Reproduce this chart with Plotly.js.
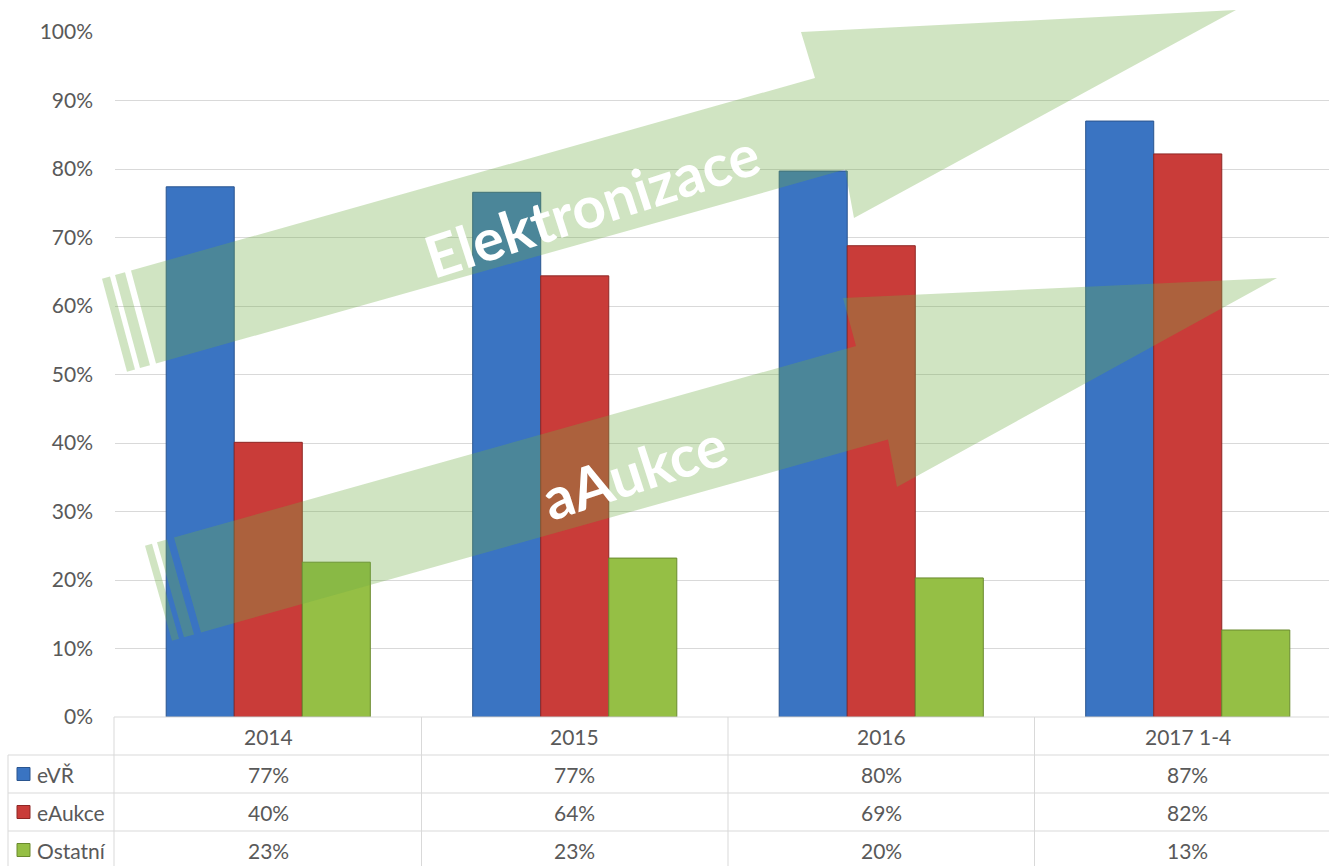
<!DOCTYPE html>
<html>
<head>
<meta charset="utf-8">
<script src="https://cdn.plot.ly/plotly-3.0.1.min.js"></script>
<style>html,body{margin:0;padding:0;background:#fff;}#chart{width:1329px;height:866px;}</style>
</head>
<body>
<div id="chart"></div>
<script>
// ---- data ----
const categories = ['2014', '2015', '2016', '2017 1-4'];
const seriesNames = ['eVŘ', 'eAukce', 'Ostatní'];
const eVR = [77.4, 76.6, 79.7, 87.0];
const eAukce = [40.1, 64.4, 68.8, 82.2];
const ostatni = [22.6, 23.2, 20.3, 12.7];
const yTickVals = [0, 10, 20, 30, 40, 50, 60, 70, 80, 90, 100];
const arrowLabels = ['Elektronizace', 'aAukce'];

// ---- styling ----
const W = 1329, H = 866;
const L = 115, R = 1329, T = 32, B = 717;
const colors = ['#3A74C2', '#C93C39', '#95BF45'];
const lineColors = ['#2A558F', '#8E2725', '#6A8A2E'];
const textColor = '#595959';
const gridColor = '#D9D9D9';
const FONT = 'Lato, "Open Sans", sans-serif';

const px = x => (x - L) / (R - L);
const py = y => (B - y) / (B - T);
const P = (x, y) => px(x).toFixed(5) + ',' + py(y).toFixed(5);
function poly(pts) { return 'M' + pts.map(p => P(p[0], p[1])).join(' L') + ' Z'; }

const seriesData = [eVR, eAukce, ostatni];
const traces = seriesData.map((vals, i) => ({
  type: 'bar',
  name: seriesNames[i],
  x: categories,
  y: vals,
  marker: { color: colors[i], line: { color: lineColors[i], width: 1 } },
  hoverinfo: 'skip',
  showlegend: false
}));

const shapes = [];
const annotations = [];
const arrowFill = 'rgba(112,173,71,0.33)';

// arrow helper: band with notched head and two stripes at tail
function arrow(tailTop, tailBot, notchTop, headTop, tip, headBot, stripes) {
  const slope = (notchTop[1] - tailTop[1]) / (notchTop[0] - tailTop[0]);
  const notchBot = [headBot[0] - 9, tailBot[1] + slope * (headBot[0] - 9 - tailBot[0])];
  shapes.push({ type: 'path', xref: 'paper', yref: 'paper', layer: 'above',
    path: poly([tailTop, notchTop, headTop, tip, headBot, notchBot, tailBot]),
    fillcolor: arrowFill, line: { width: 0 } });
  const dx = tailBot[0] - tailTop[0], dy = tailBot[1] - tailTop[1];
  stripes.forEach(s => {
    const y0 = tailTop[1] + slope * (s[0] - tailTop[0]);
    const y1 = tailTop[1] + slope * (s[1] - tailTop[0]);
    shapes.push({ type: 'path', xref: 'paper', yref: 'paper', layer: 'above',
      path: poly([[s[0], y0], [s[1], y1], [s[1] + dx, y1 + dy], [s[0] + dx, y0 + dy]]),
      fillcolor: arrowFill, line: { width: 0 } });
  });
}
arrow([131, 270.5], [156, 363.5], [815, 78], [801, 32], [1236, 10], [854, 218], [[102, 110], [115, 125]]);
arrow([174, 537.5], [201, 632.5], [856, 346], [843, 298], [1277, 278], [897, 487], [[145, 152], [157, 167]]);

annotations.push({ xref: 'paper', yref: 'paper', x: px(591), y: py(204), text: '<b>' + arrowLabels[0] + '</b>',
  showarrow: false, textangle: -18, font: { family: FONT, size: 58, color: '#ffffff' }, xanchor: 'center', yanchor: 'middle' });
annotations.push({ xref: 'paper', yref: 'paper', x: px(634), y: py(470), text: '<b>' + arrowLabels[1] + '</b>',
  showarrow: false, textangle: -18, font: { family: FONT, size: 58, color: '#ffffff' }, xanchor: 'center', yanchor: 'middle' });

// ---- data table below the plot ----
const rowLines = [755, 793, 831];
const rowCenters = [774, 812, 850];
const headerCenter = 736;
const tline = (x0, y0, x1, y1, xref) => shapes.push({ type: 'line', xref: xref || 'paper', yref: 'paper',
  x0: x0, y0: y0, x1: x1, y1: y1, line: { color: gridColor, width: 1 }, layer: 'above' });
tline(px(114), py(717), 1, py(717));
rowLines.forEach(y => tline(px(8), py(y), 1, py(y)));
tline(px(8), py(755), px(8), py(H + 5));
tline(px(114), py(717), px(114), py(H + 5));
for (let i = 0; i < categories.length - 1; i++) tline(i + 0.5, py(717), i + 0.5, py(H + 5), 'x');

categories.forEach((c, i) => {
  annotations.push({ xref: 'x', yref: 'paper', x: i, y: py(headerCenter), text: c, showarrow: false,
    font: { family: FONT, size: 21, color: textColor }, xanchor: 'center', yanchor: 'middle' });
  seriesData.forEach((vals, s) => {
    annotations.push({ xref: 'x', yref: 'paper', x: i, y: py(rowCenters[s]), text: Math.round(vals[i]) + '%', showarrow: false,
      font: { family: FONT, size: 21, color: textColor }, xanchor: 'center', yanchor: 'middle' });
  });
});
seriesNames.forEach((n, s) => {
  const yc = rowCenters[s];
  shapes.push({ type: 'rect', xref: 'paper', yref: 'paper', x0: px(17), x1: px(30), y0: py(yc - 6.5), y1: py(yc + 6.5),
    fillcolor: colors[s], line: { color: lineColors[s], width: 1 }, layer: 'above' });
  annotations.push({ xref: 'paper', yref: 'paper', x: px(35), y: py(yc), text: n, showarrow: false,
    font: { family: FONT, size: 21, color: textColor }, xanchor: 'left', yanchor: 'middle' });
});

const layout = {
  width: W, height: H,
  margin: { l: L, r: W - R, t: T, b: H - B, pad: 0 },
  paper_bgcolor: '#ffffff', plot_bgcolor: '#ffffff',
  barmode: 'group', bargap: 0.334, bargroupgap: 0,
  xaxis: { type: 'category', range: [-0.5, -0.5 + (R - L) / 306.5], showticklabels: false, showgrid: false,
    zeroline: false, showline: false, ticks: '', fixedrange: true },
  yaxis: { range: [0, 100], tickvals: yTickVals, ticktext: yTickVals.map(v => v + '%'), showgrid: true, gridcolor: gridColor,
    gridwidth: 1, zeroline: false, showline: false, ticks: '', ticklabelstandoff: 21,
    tickfont: { family: FONT, size: 21, color: textColor }, fixedrange: true },
  shapes: shapes,
  annotations: annotations,
  showlegend: false
};

Plotly.newPlot('chart', traces, layout, { displayModeBar: false, staticPlot: true });
</script>
</body>
</html>
